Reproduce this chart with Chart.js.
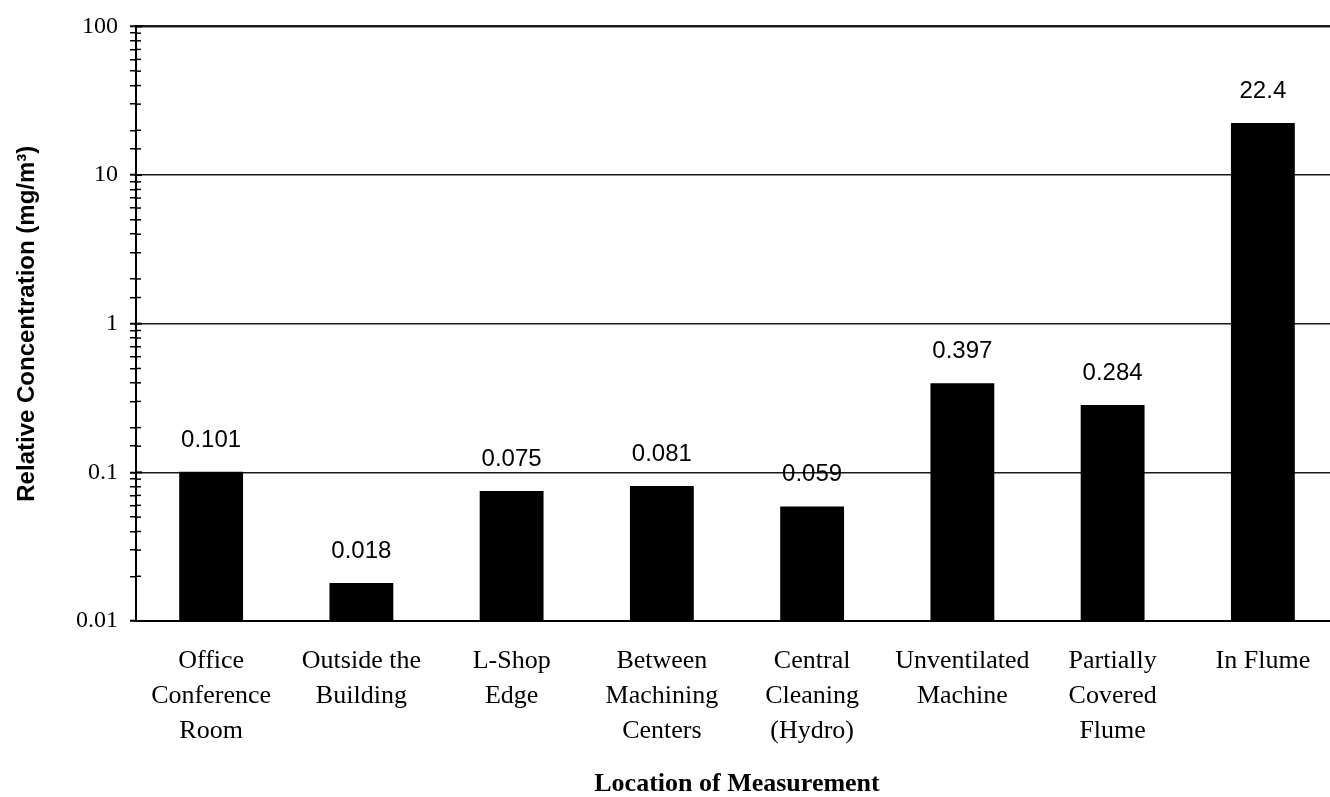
<!DOCTYPE html>
<html>
<head>
<meta charset="utf-8">
<title>Relative Concentration by Location of Measurement</title>
<script src="https://cdn.jsdelivr.net/npm/chart.js@4/dist/chart.umd.min.js"></script>
<style>
  html, body { margin: 0; padding: 0; background: #fff; overflow: hidden; }
  #wrap { position: relative; width: 1340px; height: 797px; }
</style>
</head>
<body>
<div id="wrap"><canvas id="chart"></canvas></div>
<script>
// Measurement locations (multi-line axis labels)
const locations = [
  ['Office', 'Conference', 'Room'],
  ['Outside the', 'Building'],
  ['L-Shop', 'Edge'],
  ['Between', 'Machining', 'Centers'],
  ['Central', 'Cleaning', '(Hydro)'],
  ['Unventilated', 'Machine'],
  ['Partially', 'Covered', 'Flume'],
  ['In Flume']
];

// Relative concentration, mg/m³
const concentrations = [0.101, 0.018, 0.075, 0.081, 0.059, 0.397, 0.284, 22.4];

// Log axis range (decades labelled)
const yMin = 0.01;
const yMax = 100;

const serif = '"Liberation Serif", "Times New Roman", serif';
const sans = '"Liberation Sans", Arial, sans-serif';

function isDecade(v) {
  const l = Math.log10(v);
  return Math.abs(l - Math.round(l)) < 1e-9;
}
function fmtNum(v) {
  return String(Number(v.toPrecision(6)));
}

// Writes each bar's value above it
const valueLabels = {
  id: 'valueLabels',
  afterDatasetsDraw(chart) {
    const ctx = chart.ctx;
    const meta = chart.getDatasetMeta(0);
    const data = chart.data.datasets[0].data;
    ctx.save();
    ctx.fillStyle = '#000';
    ctx.font = '24px ' + sans;
    ctx.textAlign = 'center';
    ctx.textBaseline = 'alphabetic';
    meta.data.forEach((bar, i) => {
      ctx.fillText(fmtNum(data[i]), bar.x, bar.y - 25);
    });
    ctx.restore();
  }
};

// Extends the y-axis tick marks across the axis line into the plot
const crossTicks = {
  id: 'crossTicks',
  afterDraw(chart) {
    const y = chart.scales.y;
    const ctx = chart.ctx;
    const x0 = y.right;
    ctx.save();
    ctx.strokeStyle = '#000';
    y.ticks.forEach(t => {
      const py = y.getPixelForValue(t.value);
      const major = isDecade(t.value);
      ctx.lineWidth = major ? 2 : 1.5;
      ctx.beginPath();
      ctx.moveTo(x0, py);
      ctx.lineTo(x0 + (major ? 6 : 5), py);
      ctx.stroke();
    });
    ctx.restore();
  }
};

new Chart(document.getElementById('chart'), {
  type: 'bar',
  data: {
    labels: locations,
    datasets: [{
      data: concentrations,
      backgroundColor: '#000',
      borderWidth: 0,
      barPercentage: 0.85,
      categoryPercentage: 0.5
    }]
  },
  options: {
    responsive: true,
    maintainAspectRatio: false,
    animation: false,
    devicePixelRatio: 1,
    layout: { padding: { top: 25, right: 2, left: 0, bottom: 0 } },
    plugins: {
      legend: { display: false },
      tooltip: { enabled: false }
    },
    scales: {
      x: {
        afterFit(scale) { scale.height = 176; },
        grid: { display: false, drawTicks: false },
        border: { display: true, color: '#000', width: 2 },
        ticks: {
          color: '#000',
          padding: 23,
          maxRotation: 0,
          autoSkip: false,
          font: { family: serif, size: 26, lineHeight: '35px' }
        },
        title: {
          display: true,
          text: 'Location of Measurement',
          color: '#000',
          font: { family: serif, size: 26, weight: 'bold', lineHeight: 1 },
          padding: { top: 0, bottom: 0 }
        }
      },
      y: {
        type: 'logarithmic',
        min: yMin,
        max: yMax,
        afterFit(scale) { scale.width = 136; },
        border: { display: true, color: '#000', width: 2 },
        grid: {
          color: c => (c.tick && isDecade(c.tick.value)) ? '#1a1a1a' : 'rgba(0,0,0,0)',
          lineWidth: c => (c.tick && c.tick.value === yMax) ? 2.5 : 1.5,
          drawTicks: true,
          tickLength: 6,
          tickColor: '#000',
          tickWidth: c => (c.tick && isDecade(c.tick.value)) ? 2 : 1.5
        },
        ticks: {
          autoSkip: false,
          padding: 12,
          color: '#000',
          font: { family: serif, size: 24 },
          callback: v => isDecade(v) ? fmtNum(v) : ''
        },
        title: {
          display: true,
          text: 'Relative Concentration (mg/m³)',
          color: '#000',
          font: { family: sans, size: 24, weight: 'bold', lineHeight: 1.2 },
          padding: { top: 13, bottom: 0 }
        }
      }
    }
  },
  plugins: [valueLabels, crossTicks]
});
</script>
</body>
</html>
